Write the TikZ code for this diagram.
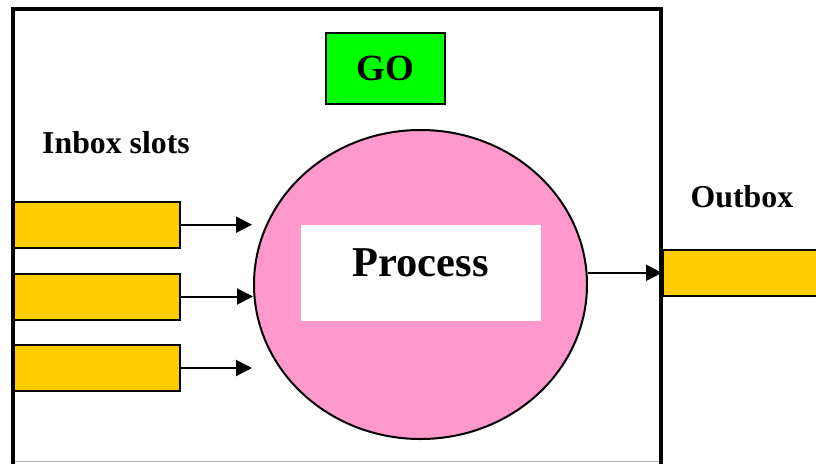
\documentclass[tikz,border=0pt]{standalone}
\usepackage{fontspec}
\setmainfont{Liberation Serif}
\usetikzlibrary{arrows.meta,shapes.geometric}
\definecolor{slotyellow}{HTML}{FFCC00}
\definecolor{procpink}{HTML}{FF99CC}
\definecolor{gogreen}{HTML}{00FF00}
\tikzset{
  slot/.style={draw=black, fill=slotyellow, line width=2pt, minimum width=166pt, minimum height=46pt, inner sep=0pt},
  arr/.style={line width=2pt, -{Triangle[length=16pt,width=16pt]}},
  lbl/.style={inner sep=0pt, anchor=base west, font=\bfseries\fontsize{31.8}{32}\selectfont}
}
\begin{document}
\begin{tikzpicture}[x=1pt,y=-1pt]
\useasboundingbox (0,0) rectangle (816,463);
\clip (0,0) rectangle (816,463);
\fill[white] (0,0) rectangle (816,463);
% outer frame
\draw[black!30, line width=1pt] (13,461.5) -- (661,461.5);
\draw[line width=4pt] (13,470) -- (13,9) -- (661,9) -- (661,470);
% process
\node (proc) [ellipse, draw=black, fill=procpink, line width=2pt, minimum width=333pt, minimum height=309pt, inner sep=0pt] at (420.5,284.5) {};
\node (pbox) [fill=white, minimum width=240pt, minimum height=96pt, inner sep=0pt] at (421,273) {};
\node (ptext) [inner sep=0pt, anchor=base, font=\bfseries\fontsize{42.5}{43}\selectfont] at (420.7,276) {Process};
% GO
\node (go) [draw=black, fill=gogreen, line width=2pt, minimum width=119pt, minimum height=71pt, inner sep=0pt, font=\bfseries\fontsize{37}{37}\selectfont] at (385,68.5) {GO};
% inbox
\node (inlbl) [lbl] at (42,153.3) {Inbox slots};
\node (in1) [slot] at (97,224.7) {};
\node (in2) [slot] at (97,296.5) {};
\node (in3) [slot] at (97,368) {};
\coordinate (t1) at (252,224.7);
\coordinate (t2) at (253,296.5);
\coordinate (t3) at (252,368);
\draw[arr] (in1.east) -- (t1);
\draw[arr] (in2.east) -- (t2);
\draw[arr] (in3.east) -- (t3);
% outbox
\node (outlbl) [lbl] at (690.5,207.3) {Outbox};
\node (out) [slot, minimum width=170pt, anchor=west] at (662,272.8) {};
\draw[arr] (proc.east |- out.west) -- (out.west);
\end{tikzpicture}
\end{document}
